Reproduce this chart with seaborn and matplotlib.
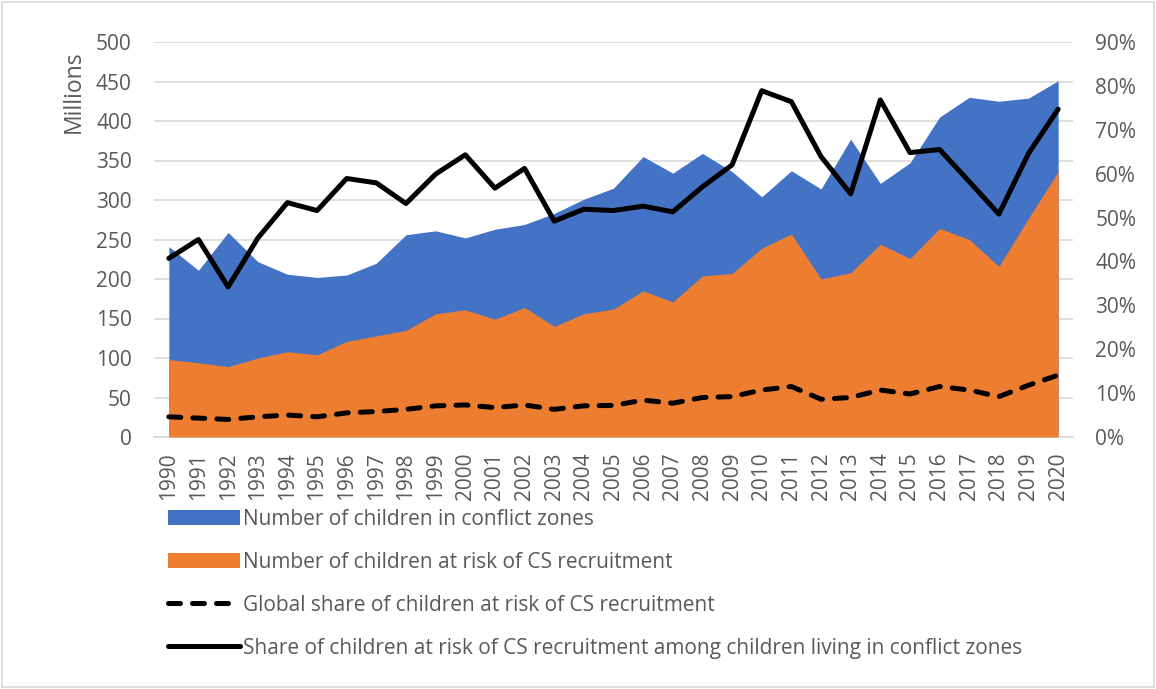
import matplotlib
matplotlib.use("Agg")
import matplotlib.pyplot as plt
import seaborn as sns
import pandas as pd
from matplotlib.patches import Patch, Rectangle
from matplotlib.lines import Line2D

# ---------------------------------------------
# Data
# ---------------------------------------------
years = list(range(1990, 2021))
conflict_children = [241, 211, 259, 222, 206, 202, 205, 220, 256, 261, 252, 263, 269, 283, 301, 315,
                     355, 334, 359, 336, 304, 337, 314, 377, 321, 347, 405, 430, 425, 429, 451]
at_risk_children = [98, 94, 89, 100, 108, 104, 121, 128, 135, 156, 161, 149, 164, 140, 156, 162,
                    185, 171, 204, 207, 239, 257, 200, 208, 244, 226, 264, 250, 216, 277, 336]
share_in_conflict = [40.7, 45.0, 34.2, 45.3, 53.4, 51.6, 58.9, 57.9, 53.2, 59.9, 64.3, 56.7, 61.2, 49.2,
                     51.9, 51.6, 52.6, 51.3, 57.0, 62.0, 78.9, 76.4, 63.9, 55.4, 76.8, 64.8, 65.5, 58.2,
                     50.8, 64.6, 74.7]
share_global = [4.6, 4.3, 4.0, 4.6, 5.0, 4.6, 5.5, 5.8, 6.3, 7.1, 7.3, 6.7, 7.3, 6.3, 7.1, 7.2,
                8.4, 7.7, 9.0, 9.2, 10.7, 11.5, 8.6, 9.0, 10.7, 9.8, 11.5, 10.7, 9.2, 11.8, 14.1]

labels = ["Number of children in conflict zones",
          "Number of children at risk of CS recruitment",
          "Global share of children at risk of CS recruitment",
          "Share of children at risk of CS recruitment among children living in conflict zones"]

df = pd.DataFrame({"year": years, "conflict": conflict_children, "at_risk": at_risk_children,
                   "share_conflict": share_in_conflict, "share_global": share_global})

BLUE = "#4472C4"
ORANGE = "#ED7D31"
GREY = "#595959"
GRID = "#D9D9D9"
LW = 3.6
DASH = [2.4, 2.4]

sns.set_theme(style="white")
plt.rcParams["font.family"] = ["Open Sans", "DejaVu Sans"]

fig = plt.figure(figsize=(11.56, 6.89), dpi=100)
ax = fig.add_axes([154 / 1156, 1 - 437 / 689, (1073 - 154) / 1156, (437 - 42) / 689])

# areas (left axis)
ax.fill_between(df["year"], 0, df["conflict"], color=BLUE, linewidth=0, zorder=2)
ax.fill_between(df["year"], 0, df["at_risk"], color=ORANGE, linewidth=0, zorder=3)
ax.set_xlim(1989.5, 2020.5)
ax.set_ylim(0, 500)
ax.set_yticks(range(0, 501, 50))
ax.set_xticks(years)
ax.set_xticklabels([str(y) for y in years], rotation=90)
ax.grid(axis="y", color=GRID, linewidth=1.2, zorder=0)
ax.set_axisbelow(True)
for s in ["top", "left", "right"]:
    ax.spines[s].set_visible(False)
ax.spines["bottom"].set_color(GRID)
ax.spines["bottom"].set_linewidth(1.2)
ax.tick_params(axis="y", length=0, pad=16, labelsize=15, labelcolor=GREY)
ax.tick_params(axis="x", length=0, pad=11, labelsize=15, labelcolor=GREY)
ax.set_ylabel("Millions", fontsize=16.5, color=GREY)
ax.yaxis.set_label_coords(-0.074, 0.873)
ax.set_xlabel("")

# lines (right axis)
ax2 = ax.twinx()
sns.lineplot(data=df, x="year", y="share_global", ax=ax2, color="black", linewidth=LW, zorder=5)
ax2.lines[-1].set_dashes(DASH)
ax2.lines[-1].set_dash_capstyle("round")
sns.lineplot(data=df, x="year", y="share_conflict", ax=ax2, color="black", linewidth=LW, zorder=5)
ax2.set_ylim(0, 90)
ax2.set_yticks(range(0, 91, 10))
ax2.set_yticklabels([f"{v}%" for v in range(0, 91, 10)])
ax2.tick_params(axis="y", length=0, pad=16, labelsize=15, labelcolor=GREY)
ax2.set_ylabel("")
ax2.set_xlabel("")
for s in ax2.spines.values():
    s.set_visible(False)
ax2.set_xlim(1989.5, 2020.5)

# legend below the plot
handles = [Patch(facecolor=BLUE, edgecolor="none"),
           Patch(facecolor=ORANGE, edgecolor="none"),
           Line2D([0], [0], color="black", linewidth=LW, dashes=DASH, dash_capstyle="round"),
           Line2D([0], [0], color="black", linewidth=LW, solid_capstyle="round")]
leg = fig.legend(handles, labels, loc="upper left", bbox_to_anchor=(168 / 1156, 1 - 509 / 689),
                 frameon=False, fontsize=15, handlelength=3.45, handletextpad=0.15,
                 labelspacing=1.05, borderpad=0, borderaxespad=0)
for t in leg.get_texts():
    t.set_color(GREY)

# light border around the whole chart
fig.patches.append(Rectangle((0.002, 0.003), 0.996, 0.994, transform=fig.transFigure,
                             fill=False, edgecolor=GRID, linewidth=1.2))

fig.savefig("out.png", dpi=100)
